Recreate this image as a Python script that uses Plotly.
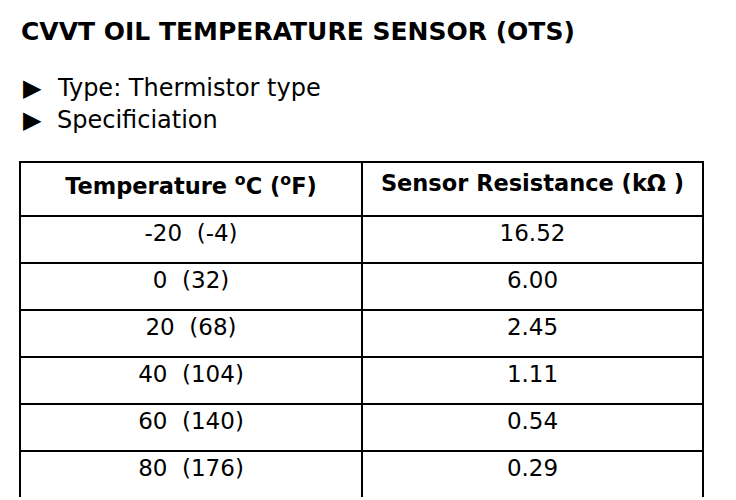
import plotly.graph_objects as go

title = "CVVT OIL TEMPERATURE SENSOR (OTS)"
bullets = ["Type: Thermistor type", "Specificiation"]

col_headers = ["<b>Temperature <sup>o</sup>C (<sup>o</sup>F)</b>", "<b>Sensor Resistance (kΩ )</b>"]
temperatures = ["-20  (-4)", "0  (32)", "20  (68)", "40  (104)", "60  (140)", "80  (176)"]
resistances = ["16.52", "6.00", "2.45", "1.11", "0.54", "0.29"]

W, H = 736, 500
font = "DejaVu Sans"

fig = go.Figure()

# table box: x 12..695, y 154..490 (pixels from top-left)
fig.add_trace(go.Table(
    domain=dict(x=[12 / W, 695 / W], y=[(H - 490) / H, (H - 154) / H]),
    columnwidth=[342, 341],
    header=dict(
        values=col_headers,
        align="center",
        height=54,
        fill_color="white",
        line=dict(color="black", width=2),
        font=dict(family=font, size=22.5, color="black"),
    ),
    cells=dict(
        values=[temperatures, resistances],
        align="center",
        height=47,
        fill_color="white",
        line=dict(color="black", width=2),
        font=dict(family=font, size=23, color="black"),
    ),
))

fig.add_annotation(
    x=11 / W, y=1 - 23 / H, xref="paper", yref="paper",
    xanchor="left", yanchor="middle", showarrow=False,
    text="<b>" + title + "</b>",
    font=dict(family=font, size=25, color="black"),
)

for i, b in enumerate(bullets):
    yy = 1 - (80 + 32 * i) / H
    fig.add_annotation(
        x=13 / W, y=yy, xref="paper", yref="paper",
        xanchor="left", yanchor="middle", showarrow=False,
        text="▶", font=dict(family=font, size=24, color="black"),
    )
    fig.add_annotation(
        x=47 / W, y=yy, xref="paper", yref="paper",
        xanchor="left", yanchor="middle", showarrow=False,
        text=b, font=dict(family=font, size=24, color="black"),
    )

fig.update_layout(
    width=W, height=H,
    margin=dict(l=0, r=0, t=0, b=0),
    paper_bgcolor="white",
    plot_bgcolor="white",
)

fig.write_html("out.html")
